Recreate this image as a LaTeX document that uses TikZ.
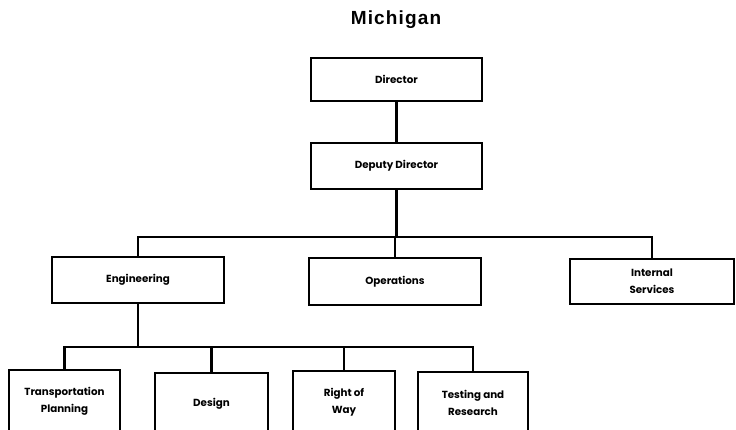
\documentclass[tikz,border=0pt]{standalone}
\usepackage{fontspec}
\newfontfamily\titlefont[LetterSpace=6]{Liberation Sans}
\newfontfamily\boxfont{Poppins}
\begin{document}
\begin{tikzpicture}[x=1pt,y=-1pt,
  unit/.style={draw,line width=2.3pt,rectangle,inner sep=0pt,align=center,
    font=\boxfont\bfseries\fontsize{10.3}{17}\selectfont},
  link/.style={line width=2.2pt}]
\useasboundingbox (0,0) rectangle (736,429);
\clip (0,0) rectangle (736,429);

\node[font=\titlefont\bfseries\fontsize{19}{21}\selectfont] (title) at (396,20) {Michigan};

% top of the organisation
\node[unit,minimum width=171pt,minimum height=43pt] (dir) at (396.5,79.5) {Director};
\node[unit,minimum width=171pt,minimum height=46pt] (dep) at (396.5,166) {Deputy Director};

% divisions
\node[unit,minimum width=172pt,minimum height=46pt] (eng) at (138,280) {Engineering};
\node[unit,minimum width=172pt,minimum height=47pt] (ops) at (395,281.5) {Operations};
\node[unit,minimum width=164pt,minimum height=45pt] (int) at (652,281.5) {Internal\\Services};

% engineering sections (boxes run past the lower edge)
\node[unit,minimum width=111pt,minimum height=62pt] (tp) at (64.5,401) {Transportation\\Planning};
\node[unit,minimum width=113pt,minimum height=62pt] (des) at (211.5,404) {Design};
\node[unit,minimum width=102pt,minimum height=62pt] (row) at (344,402) {Right of\\Way};
\node[unit,minimum width=110pt,minimum height=62pt] (tst) at (473,403) {Testing and\\Research};

% connectors
\draw[link] (dir) -- (dep);
\coordinate (b1) at (0,237);
\draw[link] (eng.north) |- (b1 -| int.north) -- (int.north);
\draw[link] (dep.south) -- (dep.south |- b1);
\draw[link] (ops.north) -- (ops.north |- b1);

\coordinate (b2) at (0,347);
\draw[link] (eng.south) -- (eng.south |- b2);
\draw[link] (tp.north) |- (b2 -| tst.north) -- (tst.north);
\draw[link] (des.north) -- (des.north |- b2);
\draw[link] (row.north) -- (row.north |- b2);
\end{tikzpicture}
\end{document}
